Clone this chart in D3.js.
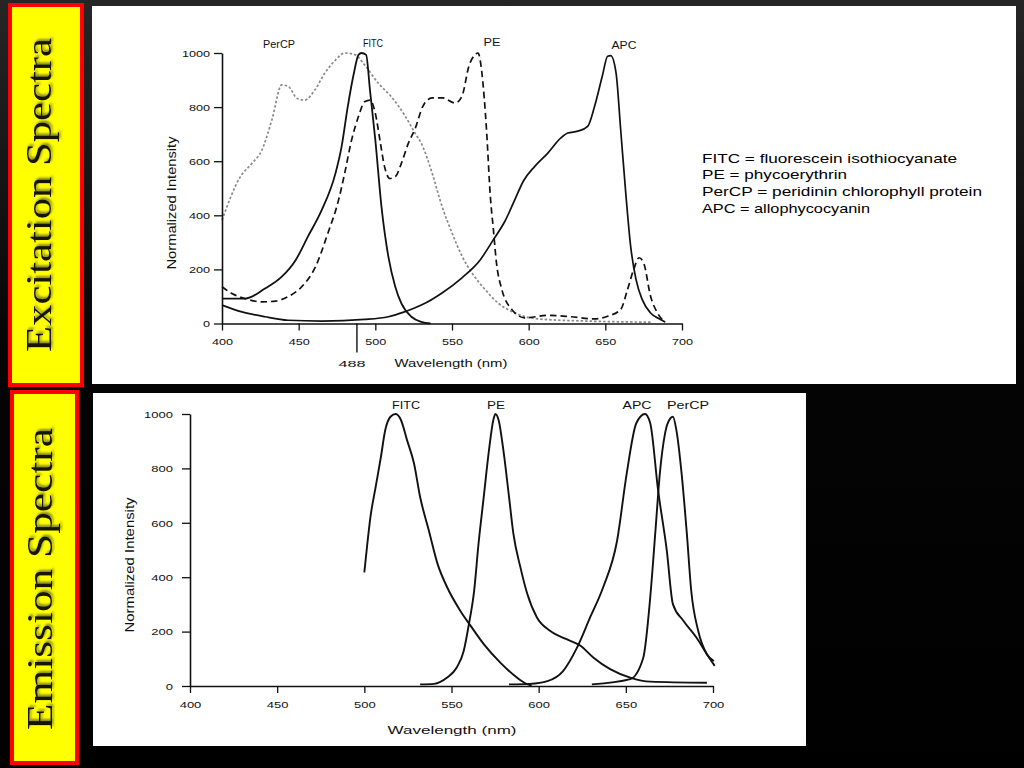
<!DOCTYPE html>
<html>
<head>
<meta charset="utf-8">
<script src="https://cdn.jsdelivr.net/npm/d3@7"></script>
<style>
  body { margin: 0; background: #000; }
  svg { display: block; }
</style>
</head>
<body>
<script>
// ---- data ----
var wavelengthTicks = [400, 450, 500, 550, 600, 650, 700];
var intensityTicks = [0, 200, 400, 600, 800, 1000];
var laserLine = 488;
var sideTitles = ["Excitation Spectra", "Emission Spectra"];
var exNames = ["PerCP", "FITC", "PE", "APC"];
var emNames = ["FITC", "PE", "APC", "PerCP"];
var legendLines = [
  "FITC = fluorescein isothiocyanate",
  "PE = phycoerythrin",
  "PerCP = peridinin chlorophyll protein",
  "APC = allophycocyanin"
];
var axisTitleX = "Wavelength (nm)";
var axisTitleY = "Normalized Intensity";

// excitation spectra [nm, intensity]
var exFitc = [[400,92],[415,92],[428,129],[439,173],[448,234],[456,321],[465,419],[474,555],[478,654],[482,801],[486,925],[489,993],[491,1000],[494,993],[496.5,863],[500,678],[504,432],[508.5,247],[513,136],[517,74],[523.5,25],[530,6],[536,0]];
var exPe = [[400,136],[406.5,111],[415,92],[426,80],[435,83],[443,99],[452,136],[461,210],[469,333],[476,456],[480,555],[484.5,678],[489,765],[493,820],[496.5,826],[500,777],[503,678],[506,580],[509.5,536],[513,543],[517,592],[521.5,666],[526,721],[531,803],[537,834],[544,834],[552,815],[556.5,840],[561,951],[565,994],[567,1000],[569.5,926],[572.5,717],[575,470],[577,347],[579,224],[582.5,126],[589,52],[597.5,21],[612.5,30],[627.5,25],[643,17],[651.5,27],[660,52],[664.5,126],[668.5,200],[672,243],[675,224],[679.5,101],[684,39],[687,15],[689,5]];
var exPercp = [[400,382],[412,543],[419.5,592],[426,641],[432.5,752],[439,882],[443.5,875],[449,832],[454,826],[460.5,863],[467,925],[474,974],[480,1000],[487,993],[493,956],[502,888],[510.5,838],[519,771],[526,703],[530.5,660],[537,557],[543.5,433],[550,335],[556.5,249],[563,187],[571.5,126],[580,76],[591,39],[606,17],[638,9],[680,5]];
var exApc = [[400,68],[413,43],[428,25],[443,12],[465,9],[493,15],[508.5,25],[519,43],[530,68],[543.5,113],[556.5,169],[568.5,236],[577,310],[584.5,378],[591,458],[596.5,526],[604,581],[612.5,630],[621,686],[625.5,704],[632,711],[638.5,729],[643,803],[648,914],[651.5,988],[653.5,990],[657,926],[660,717],[663.5,470],[666.5,286],[670,163],[674,89],[679.5,39],[686,15],[689,5]];

// emission spectra [nm, intensity]
var emFitc = [[500,418],[501.5,510],[503.5,621],[506.5,732],[509.5,842],[512,941],[515,990],[518,1000],[521,978],[524.5,904],[528.5,818],[532,695],[537,572],[542,449],[547.5,363],[555,277],[561,221],[568.5,154],[578,86],[587.5,31],[593,8],[596,2]];
var emPe = [[532,6],[540,8],[547.5,31],[553,68],[557,129],[560,228],[563,351],[565.5,523],[568.5,695],[571.5,867],[574,978],[575.2,1000],[577,978],[580,855],[583,695],[585.5,560],[589.5,437],[593.5,338],[599,252],[606.5,203],[616,172],[624,148],[631.5,104],[641,62],[652.5,31],[664,16],[696.5,12]];
var emApc = [[583,6],[595,8],[605,18],[614,55],[622,141],[629.5,252],[637,363],[645,535],[650.5,781],[656,966],[661,1000],[664,966],[668.5,720],[673.5,498],[677,301],[683,240],[690.5,178],[696.5,117],[701,74]];
var emPercp = [[630.5,6],[652.5,25],[660,104],[664,326],[667,572],[669.5,781],[672.5,929],[675.5,984],[677,990],[679,941],[682,781],[685,560],[687.5,351],[691.5,203],[696.5,117],[700.5,92]];

// ---- layout ----
var width = 1024, height = 768;
var sansFont = "'Liberation Sans', Arial, sans-serif";

var svg = d3.select("body")
            .append("svg")
            .attr("width", width)
            .attr("height", height);

// slide background
var defs = svg.append("defs");
var grad = defs.append("linearGradient")
               .attr("id", "bg").attr("x1", 0).attr("y1", 0).attr("x2", 0).attr("y2", 1);
grad.append("stop").attr("offset", "0%").attr("stop-color", "#262626");
grad.append("stop").attr("offset", "45%").attr("stop-color", "#050505");
grad.append("stop").attr("offset", "100%").attr("stop-color", "#000");
svg.append("rect").attr("width", width).attr("height", height).attr("fill", "url(#bg)");

defs.append("filter").attr("id", "shadow")
    .append("feDropShadow").attr("dx", 2).attr("dy", 1.5).attr("stdDeviation", 0.8)
    .attr("flood-color", "#7a7a30").attr("flood-opacity", 0.9);

// side title boxes
var sideBoxes = [{x: 10, y: 5, w: 72, h: 380, tx: 51, ty: 195, len: 314},
                 {x: 12, y: 392, w: 65, h: 371, tx: 52, ty: 579, len: 302}];
sideBoxes.forEach(function(b, i) {
  svg.append("rect")
     .attr("x", b.x).attr("y", b.y).attr("width", b.w).attr("height", b.h)
     .attr("fill", "#ffff00").attr("stroke", "#ff0000").attr("stroke-width", 4);
  svg.append("text")
     .attr("transform", `translate(${b.tx},${b.ty}) rotate(-90)`)
     .attr("text-anchor", "middle")
     .attr("textLength", b.len).attr("lengthAdjust", "spacingAndGlyphs")
     .attr("filter", "url(#shadow)")
     .style("font-family", "'Liberation Serif', 'DejaVu Serif', serif")
     .style("font-size", "36px")
     .attr("fill", "#141400")
     .text(sideTitles[i]);
});

// white panels
svg.append("rect").attr("x", 92).attr("y", 6).attr("width", 924).attr("height", 378).attr("fill", "#fff");
svg.append("rect").attr("x", 93).attr("y", 393).attr("width", 713).attr("height", 353).attr("fill", "#fff");

// helper: text squeezed / stretched to a measured width
function fitText(g, x, y, txt, size, len, anchor) {
  return g.append("text")
          .attr("x", x).attr("y", y)
          .attr("text-anchor", anchor || "middle")
          .attr("textLength", len).attr("lengthAdjust", "spacingAndGlyphs")
          .style("font-family", sansFont)
          .style("font-size", size + "px")
          .attr("fill", "#111")
          .text(txt);
}

function drawAxes(g, xScale, yScale, sx, yLabelGap) {
  var xAxis = g.append("g")
               .attr("transform", `translate(0, ${yScale(0)})`)
               .call(d3.axisBottom(xScale).tickValues(wavelengthTicks)
                       .tickSize(7).tickSizeOuter(0).tickPadding(8).tickFormat(d3.format("d")));
  var yAxis = g.append("g")
               .attr("transform", `translate(${xScale(400)}, 0)`)
               .call(d3.axisLeft(yScale).tickValues(intensityTicks)
                       .tickSize(8).tickSizeOuter(0).tickFormat(d3.format("d")));
  [xAxis, yAxis].forEach(function(a) {
    a.select(".domain").attr("stroke", "#111").attr("stroke-width", 1.6);
    a.selectAll(".tick line").attr("stroke", "#111").attr("stroke-width", 1.3);
    a.selectAll(".tick text")
     .style("font-family", sansFont).style("font-size", "9.5px").attr("fill", "#111");
  });
  xAxis.selectAll(".tick text").attr("transform", `scale(${sx},1)`);
  yAxis.selectAll(".tick text")
       .attr("x", -yLabelGap / sx).attr("dy", "0.34em")
       .attr("transform", `scale(${sx},1)`);
}

var line_plot = function(xScale, yScale) {
  return d3.line()
           .x(function(d) { return xScale(d[0]); })
           .y(function(d) { return yScale(d[1]); })
           .curve(d3.curveMonotoneX);
};

function drawSeries(g, data, line, style) {
  g.append("path")
   .attr("fill", "none")
   .attr("stroke", style.color)
   .attr("stroke-width", style.width)
   .attr("stroke-dasharray", style.dash || null)
   .attr("stroke-linejoin", "round")
   .attr("d", line(data));
}

// ---- excitation chart ----
var xTop = d3.scaleLinear().domain([400, 700]).range([222, 682]);
var yTop = d3.scaleLinear().domain([0, 1000]).range([323.5, 53]);
var gTop = svg.append("g");
var lineTop = line_plot(xTop, yTop);

drawSeries(gTop, exPercp, lineTop, {color: "#8a8a8a", width: 1.7, dash: "2.5,2"});
drawSeries(gTop, exPe, lineTop, {color: "#111", width: 1.7, dash: "6.5,4"});
drawSeries(gTop, exApc, lineTop, {color: "#111", width: 1.7});
drawSeries(gTop, exFitc, lineTop, {color: "#111", width: 1.8});
drawAxes(gTop, xTop, yTop, 1.33, 12);

// 488 nm laser marker
gTop.append("line")
    .attr("x1", xTop(laserLine)).attr("x2", xTop(laserLine))
    .attr("y1", yTop(0)).attr("y2", yTop(0) + 29)
    .attr("stroke", "#111").attr("stroke-width", 1.4);
fitText(gTop, xTop(laserLine) - 5, 367, String(laserLine), 9.5, 27);

fitText(gTop, 451, 367, axisTitleX, 10, 113);
gTop.append("text")
    .attr("transform", `translate(176,203) rotate(-90) scale(1,1.25)`)
    .attr("text-anchor", "middle")
    .attr("textLength", 133).attr("lengthAdjust", "spacingAndGlyphs")
    .style("font-family", sansFont).style("font-size", "10.5px").attr("fill", "#111")
    .text(axisTitleY);

var exLabelAt = [[279, 47.5, 32], [373, 46.5, 20], [492, 45.5, 17], [624, 49, 25]];
exNames.forEach(function(n, i) {
  fitText(gTop, exLabelAt[i][0], exLabelAt[i][1], n, 10, exLabelAt[i][2]);
});

var legendWidths = [255, 145, 280, 168];
legendLines.forEach(function(t, i) {
  fitText(gTop, 702, 162.5 + i * 16.7, t, 13.5, legendWidths[i], "start").attr("fill", "#000");
});

// ---- emission chart ----
var xBot = d3.scaleLinear().domain([400, 700]).range([190, 713]);
var yBot = d3.scaleLinear().domain([0, 1000]).range([686, 414]);
var gBottom = svg.append("g");
var lineBot = line_plot(xBot, yBot);

[emFitc, emPe, emApc, emPercp].forEach(function(s) {
  drawSeries(gBottom, s, lineBot, {color: "#111", width: 1.9});
});
drawAxes(gBottom, xBot, yBot, 1.37, 17);

fitText(gBottom, 452, 733.5, axisTitleX, 10, 129);
gBottom.append("text")
    .attr("transform", `translate(134,565) rotate(-90) scale(1,1.25)`)
    .attr("text-anchor", "middle")
    .attr("textLength", 135).attr("lengthAdjust", "spacingAndGlyphs")
    .style("font-family", sansFont).style("font-size", "10.5px").attr("fill", "#111")
    .text(axisTitleY);

var emLabelAt = [[406, 409, 28], [496, 409, 18], [637, 409, 29], [688, 409, 42]];
emNames.forEach(function(n, i) {
  fitText(gBottom, emLabelAt[i][0], emLabelAt[i][1], n, 10.5, emLabelAt[i][2]);
});
</script>
</body>
</html>
